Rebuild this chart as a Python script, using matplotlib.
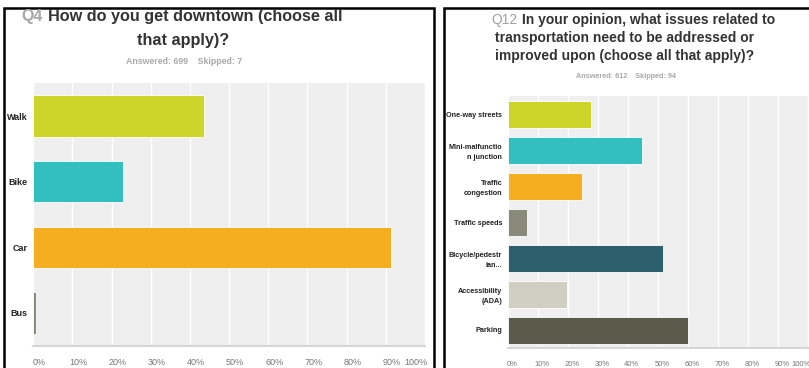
import matplotlib
matplotlib.use("Agg")
import matplotlib.pyplot as plt
import matplotlib.transforms as mtransforms
from matplotlib.patches import Rectangle

plt.rcParams['font.family'] = ['Liberation Sans', 'DejaVu Sans']

# Q4 data
q4_labels = ["Walk", "Bike", "Car", "Bus"]
q4_values = [43.5, 23.0, 91.2, 0.7]
q4_colors = ["#cdd52b", "#33bec0", "#f5ae1f", "#898a7a"]

# Q12 data
q12_labels = ["One-way streets", "Mini-malfunctio\nn junction", "Traffic\ncongestion",
              "Traffic speeds", "Bicycle/pedestr\nian...", "Accessibility\n(ADA)", "Parking"]
q12_values = [27.7, 44.8, 24.9, 6.5, 51.7, 19.8, 60.0]
q12_colors = ["#cdd52b", "#33bec0", "#f5ae1f", "#898a7a", "#2d5f6c", "#d1cfc2", "#5c5a4b"]

pct_ticks = list(range(0, 101, 10))
pct_labels = [f"{t}%" for t in pct_ticks]

W, H = 809, 368
fig = plt.figure(figsize=(W / 100, H / 100), dpi=100)


def px(x, y):
    return x / W, 1 - y / H


def bar_panel(rect, labels, values, colors, bar_h, ylab_size, xlab_size, offsets):
    ax = fig.add_axes(rect)
    pos = list(range(len(labels)))
    ax.barh(pos, values, height=bar_h, color=colors, edgecolor="white", linewidth=0.6, zorder=3)
    ax.set_xlim(0, 100)
    ax.set_ylim(len(labels) - 0.5, -0.5)
    ax.set_facecolor("#efefef")
    ax.set_xticks(pct_ticks)
    ax.set_xticklabels(pct_labels, fontsize=xlab_size, color="#777777")
    ax.set_yticks(pos)
    ax.set_yticklabels(labels, fontsize=ylab_size, fontweight="bold", color="#222222",
                       linespacing=1.6)
    ax.tick_params(length=0, axis="x", pad=9)
    ax.tick_params(length=0, axis="y", pad=4)
    ax.grid(axis="x", color="white", linewidth=1.0, zorder=1)
    for s in ["top", "left", "right"]:
        ax.spines[s].set_visible(False)
    ax.spines["bottom"].set_color("#d6d6d6")
    ax.spines["bottom"].set_linewidth(1.5)
    # shift tick labels a little like the screenshot
    for lab, off in zip(ax.get_xticklabels(), offsets):
        lab.set_transform(lab.get_transform() +
                          mtransforms.ScaledTranslation(off / 100, 0, fig.dpi_scale_trans))
    return ax


# panel borders
fig.patches.append(Rectangle(px(4, 400), (434 - 4) / W, (400 - 8) / H, transform=fig.transFigure,
                             fill=False, edgecolor="black", linewidth=1.8))
fig.patches.append(Rectangle(px(444, 400), (900 - 444) / W, (400 - 8) / H, transform=fig.transFigure,
                             fill=False, edgecolor="black", linewidth=1.8))

# left chart
x0, y0 = px(33.3, 345.7)
bar_panel([x0, y0, (425 - 33.3) / W, (345.7 - 83.3) / H], q4_labels, q4_values, q4_colors,
          0.63, 6.5, 6.5, [6] * 10 + [-9])

# right chart
x0, y0 = px(507.7, 348)
bar_panel([x0, y0, (808 - 507.7) / W, (348 - 96) / H], q12_labels, q12_values, q12_colors,
          0.75, 5.2, 5.5, [4] * 10 + [-7])

# titles
tx, ty = px(43, 17)
fig.text(tx, ty, "Q4", ha="right", va="center", fontsize=11.5, fontweight="bold", color="#a8a8a8")
tx, ty = px(48, 17)
fig.text(tx, ty, "How do you get downtown (choose all", ha="left", va="center",
         fontsize=11.7, fontweight="bold", color="#333333")
tx, ty = px(183, 40)
fig.text(tx, ty, "that apply)?", ha="center", va="center", fontsize=11.7,
         fontweight="bold", color="#333333")
tx, ty = px(184, 62)
fig.text(tx, ty, "Answered: 699    Skipped: 7", ha="center", va="center", fontsize=6.3,
         fontweight="bold", color="#a8a8a8")

tx, ty = px(518, 20)
fig.text(tx, ty, "Q12", ha="right", va="center", fontsize=10, color="#a0a0a0")
tx, ty = px(522, 20)
fig.text(tx, ty, "In your opinion, what issues related to", ha="left", va="center",
         fontsize=10, fontweight="bold", color="#333333")
tx, ty = px(625, 38)
fig.text(tx, ty, "transportation need to be addressed or", ha="center", va="center",
         fontsize=10, fontweight="bold", color="#333333")
tx, ty = px(625, 56)
fig.text(tx, ty, "improved upon (choose all that apply)?", ha="center", va="center",
         fontsize=10, fontweight="bold", color="#333333")
tx, ty = px(626, 77)
fig.text(tx, ty, "Answered: 612    Skipped: 94", ha="center", va="center", fontsize=5.2,
         fontweight="bold", color="#a8a8a8")

fig.savefig("out.png", dpi=100)
